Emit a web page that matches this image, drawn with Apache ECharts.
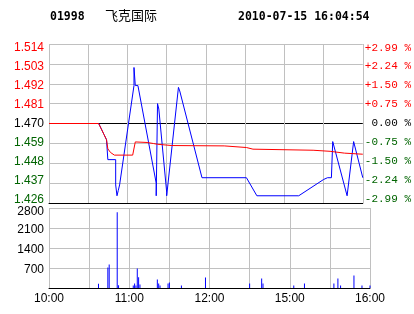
<!DOCTYPE html>
<html>
<head>
<meta charset="utf-8">
<script src="https://cdn.jsdelivr.net/npm/echarts@6/dist/echarts.min.js"></script>
<style>html,body{margin:0;padding:0;background:#fff;}#c{width:414px;height:314px;}</style>
</head>
<body>
<div id="c"></div>
<script>
// ---- data ----
const stockCode = '01998';
const stockName = '飞克国际';
const stamp = '2010-07-15 16:04:54';
const prevClose = 1.470;
const xTickLabels = {0: '10:00', 60: '11:00', 120: '12:00', 180: '15:00', 240: '16:00'};

const priceTimes = ['10:00','10:38','10:40','10:42','10:44','10:45','10:51','10:51','10:52','10:53','10:54','11:05','11:05','11:06','11:08','11:22','11:22','11:23','11:24','11:30','11:30','11:39','11:40','11:57','14:31','14:39','15:11','15:30','15:33','15:36','15:37','15:48','15:53','16:00'];
const priceValues = [1.470,1.470,1.467,1.464,1.461,1.450,1.450,1.436,1.430,1.433,1.436,1.491,1.501,1.491,1.491,1.437,1.430,1.481,1.478,1.432,1.430,1.490,1.488,1.440,1.440,1.430,1.430,1.439,1.440,1.440,1.460,1.430,1.460,1.440];

const avgTimes = ['10:00','10:38','10:40','10:42','10:44','10:45','10:47','10:50','11:04','11:06','11:15','11:20','11:23','11:34','11:35','12:14','12:15','14:31','14:32','14:36','14:37','15:22','15:23','15:35','15:36','15:46','15:47','16:00'];
const avgValues = [1.470,1.470,1.467,1.464,1.461,1.456,1.454,1.4525,1.4525,1.4598,1.4595,1.4589,1.4585,1.4578,1.4576,1.4576,1.4567,1.4567,1.4558,1.4558,1.4552,1.4552,1.4546,1.4546,1.4536,1.4536,1.4530,1.4530];

const volTimes = ['10:37','10:44','10:45','10:51','10:52','11:03','11:04','11:05','11:06','11:07','11:08','11:21','11:22','11:23','11:29','11:30','11:39','11:57','14:30','14:39','14:40','15:03','15:11','15:33','15:36','15:38','15:48','15:54','16:00'];
const volValues = [150,720,820,2650,100,90,160,90,680,380,120,300,160,90,160,190,90,370,160,330,160,90,160,160,330,90,440,90,90];

// ---- helpers ----
function toMin(t){const a=t.split(':').map(Number);const d=a[0]*60+a[1];return d<=750?d-600:d-720;}
function toUnits(p){return Math.round((p-prevClose)*10000)/10;} // thousandths from prev close
const priceData = priceTimes.map((t,i)=>[toMin(t),toUnits(priceValues[i])]);
const avgData = avgTimes.map((t,i)=>[toMin(t),toUnits(avgValues[i])]);
const volData = volTimes.map((t,i)=>[toMin(t),volValues[i]]);

const GRAY = '#c0c0c0';
const GREEN = '#006400';
// split line colours bottom->top; prev-close line (index 4) is black
const priceSplitColors = [GRAY,GRAY,GRAY,GRAY,'#000000',GRAY,GRAY,GRAY,GRAY];

function shiftPad(d){return d>=0?[2*d,0,0,0]:[0,0,-2*d,0];}
function makeRich(fontSize,family){
  const rich={};
  for(let v=-44;v<=44;v+=11){
    const i=(44-v)/11;
    const d=3.6-i*0.9;
    const col=v>0?'#ff0000':(v<0?GREEN:'#000');
    rich['t'+i]={color:col,fontSize:fontSize,fontFamily:family,padding:shiftPad(d)};
  }
  return rich;
}
const volShift={2800:4,2100:2,1400:2,700:1.5};
const volRich={};
Object.keys(volShift).forEach(k=>{volRich['v'+k]={color:'#000',fontSize:12,fontFamily:'Liberation Sans',padding:shiftPad(volShift[k])};});

const chart = echarts.init(document.getElementById('c'), null, {renderer:'canvas'});
chart.setOption({
  animation:false,
  backgroundColor:'#fff',
  graphic:[
    {type:'text',left:50,top:11,style:{text:stockCode,font:'bold 11.5px "DejaVu Sans Mono"',fill:'#000'}},
    {type:'text',left:105,top:9,style:{text:stockName,font:'13px "Noto Sans CJK SC"',fill:'#000'}},
    {type:'text',left:238,top:11,style:{text:stamp,font:'bold 11.5px "DejaVu Sans Mono"',fill:'#000'}}
  ],
  grid:[
    {left:49,right:44,top:44,height:159},
    {left:49,right:44,top:208,height:80}
  ],
  xAxis:[
    {type:'value',gridIndex:0,min:0,max:240,interval:30,
     axisLine:{show:true,onZero:false,lineStyle:{color:'#000'}},axisTick:{show:false},axisLabel:{show:false},
     splitLine:{show:true,lineStyle:{color:GRAY}}},
    {type:'value',gridIndex:1,min:0,max:240,interval:30,
     axisLine:{show:true,onZero:false,lineStyle:{color:'#000'}},axisTick:{show:false},
     axisLabel:{margin:5,color:'#000',fontSize:12,fontFamily:'Liberation Sans',formatter:v=>xTickLabels[v]||''},
     splitLine:{show:true,lineStyle:{color:GRAY}}}
  ],
  yAxis:[
    {type:'value',gridIndex:0,min:-44,max:44,interval:11,
     axisLine:{show:false},axisTick:{show:false},
     axisLabel:{margin:5,fontSize:12,fontFamily:'Liberation Sans',
       formatter:v=>{const s=((prevClose*1000+v)/1000).toFixed(3);return '{t'+Math.round((44-v)/11)+'|'+s+'}';},
       rich:makeRich(12,'Liberation Sans')},
     splitLine:{show:true,lineStyle:{color:priceSplitColors}}},
    {type:'value',gridIndex:0,position:'right',min:-44,max:44,interval:11,
     axisLine:{show:false},axisTick:{show:false},splitLine:{show:false},
     axisLabel:{margin:2,fontSize:11,fontFamily:'Liberation Mono',
       formatter:v=>{const pc=(Math.abs(v)/(prevClose*1000)*100).toFixed(2);const sg=v>0?'+':(v<0?'-':' ');return '{t'+Math.round((44-v)/11)+'|'+sg+pc+' %}';},
       rich:makeRich(11,'Liberation Mono')}},
    {type:'value',gridIndex:1,min:0,max:2800,interval:700,
     axisLine:{show:false},axisTick:{show:false},
     axisLabel:{margin:5,color:'#000',fontSize:12,fontFamily:'Liberation Sans',formatter:v=>v===0?'':'{v'+v+'|'+v+'}',rich:volRich},
     splitLine:{show:true,lineStyle:{color:GRAY}}}
  ],
  series:[
    {type:'line',xAxisIndex:0,yAxisIndex:0,data:priceData,symbol:'none',z:2,
     lineStyle:{color:'#0000ff',width:1},itemStyle:{color:'#0000ff'}},
    {type:'line',xAxisIndex:0,yAxisIndex:0,data:avgData,symbol:'none',z:3,
     lineStyle:{color:'#ff0000',width:1},itemStyle:{color:'#ff0000'}},
    {type:'bar',xAxisIndex:1,yAxisIndex:2,data:volData,barWidth:1,itemStyle:{color:'#0000ff'}}
  ]
});
</script>
</body>
</html>
